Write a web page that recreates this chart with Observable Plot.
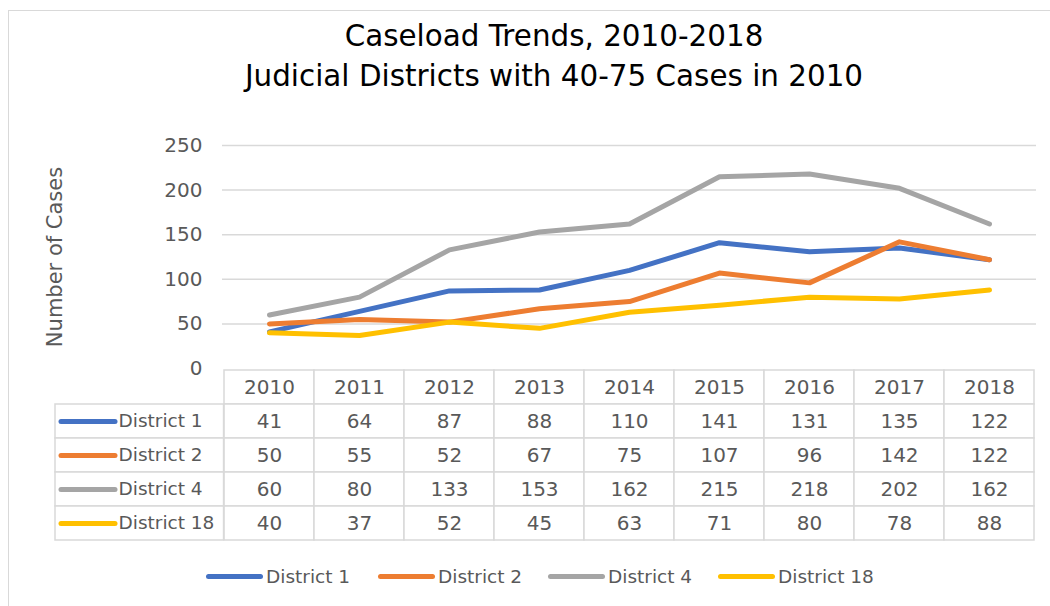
<!DOCTYPE html>
<html><head><meta charset="utf-8">
<script src="https://cdn.jsdelivr.net/npm/d3@7"></script>
<script src="https://cdn.jsdelivr.net/npm/@observablehq/plot@0.6"></script>
<style>
html,body{margin:0;padding:0;background:#fff;overflow:hidden;}
#root{position:relative;width:1050px;height:606px;overflow:hidden;font-family:"DejaVu Sans",sans-serif;color:#595959;}
#frame{position:absolute;left:8px;top:10px;width:1100px;height:700px;border:1.5px solid #D9D9D9;box-sizing:border-box;}
#title{position:absolute;left:0;top:16px;width:1108px;text-align:center;font-size:29.4px;line-height:40px;color:#000;}
#chart{position:absolute;left:0;top:0;}
#table{position:absolute;left:0;top:367px;}
#legend{position:absolute;left:0;top:564px;width:1050px;height:24px;}
.lg{position:absolute;top:0;height:24px;display:flex;align-items:center;font-size:18.5px;color:#595959;}
.sw{display:inline-block;width:57px;height:5px;border-radius:3px;margin-right:3px;}
</style></head>
<body><div id="root">
<div id="frame"></div>
<div id="title">Caseload Trends, 2010-2018<br>Judicial Districts with 40-75 Cases in 2010</div>
<div id="chart"></div>
<div id="table"></div>
<div id="legend"></div>
</div>
<script>
const years = ["2010","2011","2012","2013","2014","2015","2016","2017","2018"];
const series = ["District 1","District 2","District 4","District 18"];
const district1 = [41,64,87,88,110,141,131,135,122];
const district2 = [50,55,52,67,75,107,96,142,122];
const district4 = [60,80,133,153,162,215,218,202,162];
const district18 = [40,37,52,45,63,71,80,78,88];
const colors = ["#4472C4","#ED7D31","#A5A5A5","#FFC000"];
const yTicks = [0,50,100,150,200,250];
const yLabel = "Number of Cases";

const values = [district1, district2, district4, district18];
const rows = series.flatMap((s,i)=>values[i].map((v,j)=>({series:s, year:years[j], value:v})));
const font = "'DejaVu Sans', sans-serif";
const grid = "#D9D9D9";
const txt = "#595959";
const W = 1050, mL = 222, mR = 14;
const bw = (W - mL - mR) / years.length;

const chart = Plot.plot({
  width:W, height:380, marginLeft:mL, marginRight:mR, marginTop:145, marginBottom:12,
  x:{type:"band", domain:years, padding:0, axis:null},
  y:{domain:[0,250], axis:null},
  color:{domain:series, range:colors},
  style:{fontFamily:font, fontSize:"20px", color:txt, background:"transparent", overflow:"visible"},
  marks:[
    Plot.ruleY(yTicks.filter(t=>t>0), {stroke:grid, strokeWidth:1.5}),
    Plot.axisY({ticks:yTicks, tickSize:0, tickPadding:20, label:null, fontSize:20, tickFormat:d=>String(d)}),
    Plot.text([yLabel], {text:d=>d, frameAnchor:"left", textAnchor:"middle", rotate:-90, dx:-167, fontSize:21, fill:txt}),
    Plot.line(rows, {x:"year", y:"value", z:"series", stroke:"series", strokeWidth:5, strokeLinejoin:"round", strokeLinecap:"round"})
  ]
});
document.getElementById("chart").appendChild(chart);

const headerKey = "Year";
const cells = [...years.map(y=>({year:y, row:headerKey})), ...rows.map(r=>({year:r.year, row:r.series}))];
const table = Plot.plot({
  width:W, height:176, marginLeft:mL, marginRight:mR, marginTop:1, marginBottom:2,
  x:{type:"band", domain:years, padding:0, axis:null},
  y:{type:"band", domain:[headerKey, ...series], padding:0, axis:null},
  color:{domain:series, range:colors},
  style:{fontFamily:font, fontSize:"20px", color:txt, background:"transparent", overflow:"visible"},
  marks:[
    Plot.cell(cells, {x:"year", y:"row", fill:"white", stroke:grid, strokeWidth:1.5}),
    Plot.cell(series, {x:()=>years[0], y:d=>d, fill:"white", stroke:grid, strokeWidth:1.5, insetLeft:-169, insetRight:bw}),
    Plot.text(years, {x:d=>d, y:()=>headerKey, text:d=>d, fontSize:20, fill:txt}),
    Plot.text(rows, {x:"year", y:"series", text:d=>String(d.value), fontSize:20, fill:txt}),
    Plot.tickY(series, {y:d=>d, stroke:d=>d, strokeWidth:5, strokeLinecap:"round", insetLeft:-161, insetRight:(W-mL-mR)+107}),
    Plot.text(series, {y:d=>d, text:d=>d, frameAnchor:"left", textAnchor:"start", dx:-104, fontSize:18.5, fill:txt})
  ]
});
document.getElementById("table").appendChild(table);

const legendX = [206, 378, 548, 718];
const legend = document.getElementById("legend");
series.forEach((s,i)=>{
  const d = document.createElement("div");
  d.className = "lg";
  d.style.left = legendX[i] + "px";
  const sw = document.createElement("span");
  sw.className = "sw";
  sw.style.background = colors[i];
  d.appendChild(sw);
  d.appendChild(document.createTextNode(s));
  legend.appendChild(d);
});
</script>
</body></html>
